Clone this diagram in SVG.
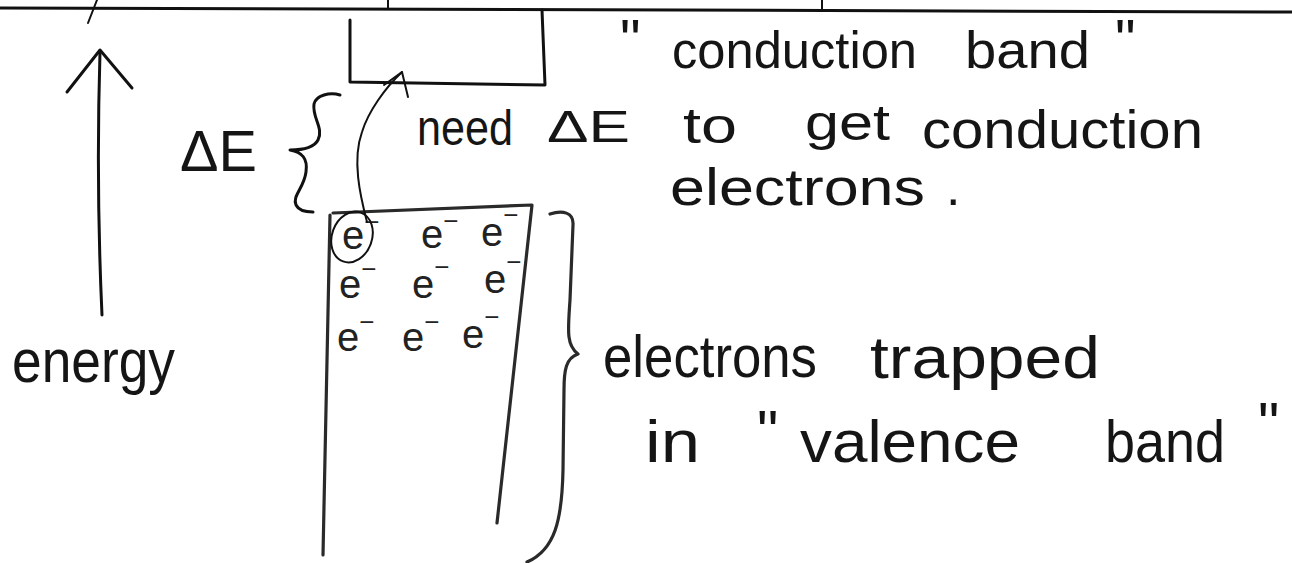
<svg xmlns="http://www.w3.org/2000/svg" width="1292" height="563" viewBox="0 0 1292 563">
<style>
.ink{fill:none;stroke:#111;stroke-width:3;stroke-linecap:round;stroke-linejoin:round}
.pen{fill:none;stroke:#2a2a2a;stroke-width:3.2;stroke-linecap:round;stroke-linejoin:round}
.thin{fill:none;stroke:#111;stroke-width:2;stroke-linecap:round;stroke-linejoin:round}
.t{font-family:"Liberation Sans","DejaVu Sans",sans-serif;fill:#151515}
.el{font-family:"Liberation Sans","DejaVu Sans",sans-serif;fill:#222;font-size:40px}
.m{font-size:26px}
</style>
<rect width="1292" height="563" fill="#fff"/>

<g id="page-edge">
<path class="ink" d="M0,8 L1292,12"/>
<path class="thin" d="M97,0 L88,23"/>
<path class="thin" d="M388,0 L388,9"/>
<path class="thin" d="M822,0 L822,11"/>
</g>

<g id="energy-axis">
<path class="ink" stroke-width="4" d="M102,315 C99,250 97,150 100,52"/>
<path class="ink" stroke-width="4" d="M67,92 L100,50 L132,88"/>
<text class="t" x="12" y="382" font-size="62" textLength="163" lengthAdjust="spacingAndGlyphs">energy</text>
</g>

<g id="conduction-band">
<path class="ink" d="M350,20 L350,82 L545,85 L542,10"/>
<text class="t" y="68" font-size="52"><tspan x="620" y="60" font-size="58">"</tspan><tspan x="672" y="68" textLength="245" lengthAdjust="spacingAndGlyphs">conduction</tspan><tspan x="965" y="68" textLength="125" lengthAdjust="spacingAndGlyphs">band</tspan><tspan x="1115" y="60" font-size="58">"</tspan></text>
</g>

<g id="gap">
<text class="t" x="180" y="171" font-size="58" textLength="77" lengthAdjust="spacingAndGlyphs">ΔE</text>
<path class="ink" d="M340,95 C330,92 316,95 314,104 C312,118 324,128 318,140 C314,148 302,150 290,150 C302,152 308,158 306,172 C304,188 292,196 296,205 C299,211 306,212 313,212"/>
<text class="t" y="145" font-size="50"><tspan x="417" textLength="96" lengthAdjust="spacingAndGlyphs">need</tspan><tspan x="547" y="142" font-size="45" textLength="83" lengthAdjust="spacingAndGlyphs">ΔE</tspan><tspan x="683" y="143" textLength="54" lengthAdjust="spacingAndGlyphs">to</tspan><tspan x="805" y="140" textLength="85" lengthAdjust="spacingAndGlyphs">get</tspan><tspan x="922" y="148" font-size="54" textLength="281" lengthAdjust="spacingAndGlyphs">conduction</tspan></text>
<text class="t" y="205" font-size="52"><tspan x="670" textLength="255" lengthAdjust="spacingAndGlyphs">electrons</tspan><tspan x="946">.</tspan></text>
</g>

<g id="valence-band">
<path class="pen" d="M333,213 L532,205 L497,523"/>
<path class="pen" d="M330,215 L323,555"/>
<path class="pen" d="M550,214 C562,210 574,212 573,225 L570,300 C568,330 566,345 578,354 C566,358 564,370 564,390 L563,470 C562,520 555,550 527,562"/>
<text class="el" x="342" y="249">e<tspan class="m" dy="-18">−</tspan></text>
<text class="el" x="421" y="248">e<tspan class="m" dy="-18">−</tspan></text>
<text class="el" x="481" y="246">e<tspan class="m" dy="-22">−</tspan></text>
<text class="el" x="339" y="298">e<tspan class="m" dy="-20">−</tspan></text>
<text class="el" x="412" y="298">e<tspan class="m" dy="-22">−</tspan></text>
<text class="el" x="484" y="293">e<tspan class="m" dy="-22">−</tspan></text>
<text class="el" x="337" y="351">e<tspan class="m" dy="-20">−</tspan></text>
<text class="el" x="402" y="351">e<tspan class="m" dy="-20">−</tspan></text>
<text class="el" x="462" y="348">e<tspan class="m" dy="-22">−</tspan></text>
<ellipse class="thin" cx="352" cy="237" rx="20" ry="26" transform="rotate(20 352 237)"/>
<text class="t" font-size="60"><tspan x="603" y="377" textLength="214" lengthAdjust="spacingAndGlyphs">electrons</tspan><tspan x="870" y="378" textLength="230" lengthAdjust="spacingAndGlyphs">trapped</tspan><tspan x="645" y="462" textLength="55" lengthAdjust="spacingAndGlyphs">in</tspan><tspan x="757" y="452">"</tspan><tspan x="800" y="462" textLength="220" lengthAdjust="spacingAndGlyphs">valence</tspan><tspan x="1105" y="462" textLength="120" lengthAdjust="spacingAndGlyphs">band</tspan><tspan x="1258" y="444">"</tspan></text>
</g>

<g id="connectors">
<path class="thin" d="M367,222 C360,195 352,160 362,132 C368,112 385,88 402,72"/>
<path class="thin" d="M384,85 L402,72 L408,97"/>
</g>
</svg>
